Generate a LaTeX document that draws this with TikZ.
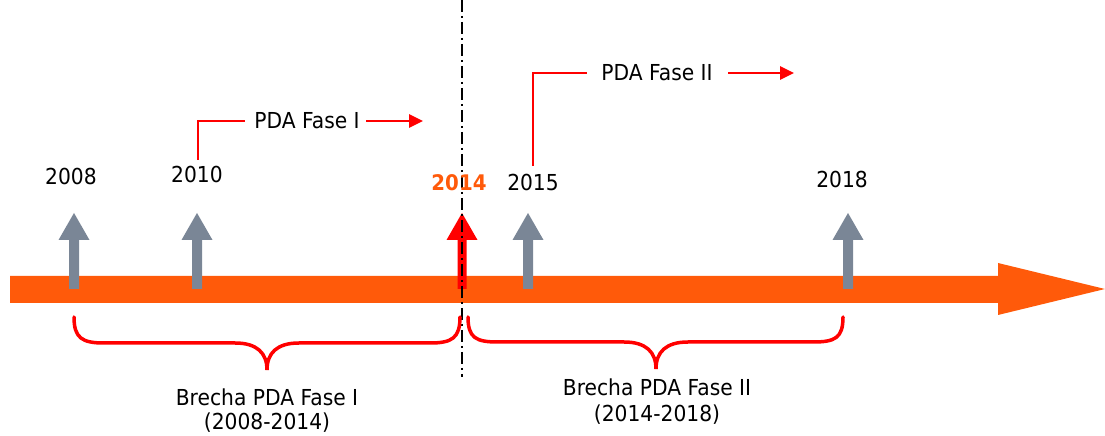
\documentclass[tikz,border=0pt]{standalone}
\usepackage{fontspec}
\setmainfont{DejaVu Sans}[FakeStretch=0.92]
\usetikzlibrary{arrows.meta}
\definecolor{barorange}{HTML}{FF5A0A}
\definecolor{slategrey}{HTML}{7A8696}
\definecolor{markred}{HTML}{FF0000}
\tikzset{
  lbl/.style={font=\fontsize{22}{26}\selectfont, text=black, inner sep=0pt},
  yearnow/.style={lbl, font=\fontsize{21.5}{26}\selectfont\bfseries, text=barorange},
  phase/.style={draw=markred, line width=2.6pt},
  phasearrow/.style={phase, -{Triangle[length=14pt,width=13pt]}},
  brace/.style={draw=markred, line width=3.5pt, line cap=round},
  divider/.style={draw=black, line width=1.8pt, dash pattern=on 12pt off 4pt on 2pt off 4pt}
}
% upward marker: centre x, half shaft width, fill colour
\newcommand{\uparrowmark}[3]{%
  \fill[#3] (#1-#2,147) -- (#1-#2,196) -- (#1-15.5,196) -- (#1,223) -- (#1+15.5,196)
    -- (#1+#2,196) -- (#1+#2,147) -- cycle;}
% curly brace from x1 to x2, tip at xm
\newcommand{\curlybrace}[4]{%
  \draw[brace] (#1,119) .. controls (#1,98) and (#1+8,#4) .. (#1+30,#4)
    -- (#3-32,#4) .. controls (#3-10,#4) and (#3,#4-10) .. (#3,#4-27)
    .. controls (#3,#4-10) and (#3+10,#4) .. (#3+32,#4)
    -- (#2-30,#4) .. controls (#2-8,#4) and (#2,98) .. (#2,119);}
\begin{document}
\begin{tikzpicture}[x=1pt,y=1pt]
\useasboundingbox (0,0) rectangle (1105,436);

% main time axis
\fill[barorange] (10,133) -- (998,133) -- (998,121) -- (1105,147) -- (998,173)
  -- (998,160) -- (10,160) -- cycle;

% year markers
\uparrowmark{74}{5}{slategrey}
\uparrowmark{197}{5}{slategrey}
\uparrowmark{528}{5}{slategrey}
\uparrowmark{848}{5}{slategrey}
\uparrowmark{462}{4.5}{markred}

% divider at 2014
\coordinate (divtop) at (462,436);
\coordinate (divbot) at (462,59);
\draw[divider] (divtop) -- (divbot);

% year labels
\node[lbl] (y2008) at (71,260) {2008};
\node[lbl] (y2010) at (197,262) {2010};
\node[yearnow] (y2014) at (459,253) {2014};
\node[lbl] (y2015) at (533,254) {2015};
\node[lbl] (y2018) at (842,257) {2018};

% phase I
\node[lbl] (pda1) at (307,315) {PDA Fase I};
\coordinate (p1start) at (198,276);
\coordinate (p1corner) at (198,315);
\coordinate (p1left) at (245,315);
\coordinate (p1from) at (366,315);
\coordinate (p1to) at (423,315);
\draw[phase] (p1start) -- (p1corner) -- (p1left);
\draw[phasearrow] (p1from) -- (p1to);

% phase II
\node[lbl] (pda2) at (657,363) {PDA Fase II};
\coordinate (p2start) at (533,270);
\coordinate (p2corner) at (533,363);
\coordinate (p2left) at (587,363);
\coordinate (p2from) at (728,363);
\coordinate (p2to) at (794,363);
\draw[phase] (p2start) -- (p2corner) -- (p2left);
\draw[phasearrow] (p2from) -- (p2to);

% gap braces
\curlybrace{74}{460}{267}{93}
\curlybrace{468}{843}{656}{94}

\node[lbl] (gap1) at (267,39) {Brecha PDA Fase I};
\node[lbl] (gap1y) at (267,13) {(2008-2014)};
\node[lbl] (gap2) at (657,49) {Brecha PDA Fase II};
\node[lbl] (gap2y) at (657,21) {(2014-2018)};
\end{tikzpicture}
\end{document}
